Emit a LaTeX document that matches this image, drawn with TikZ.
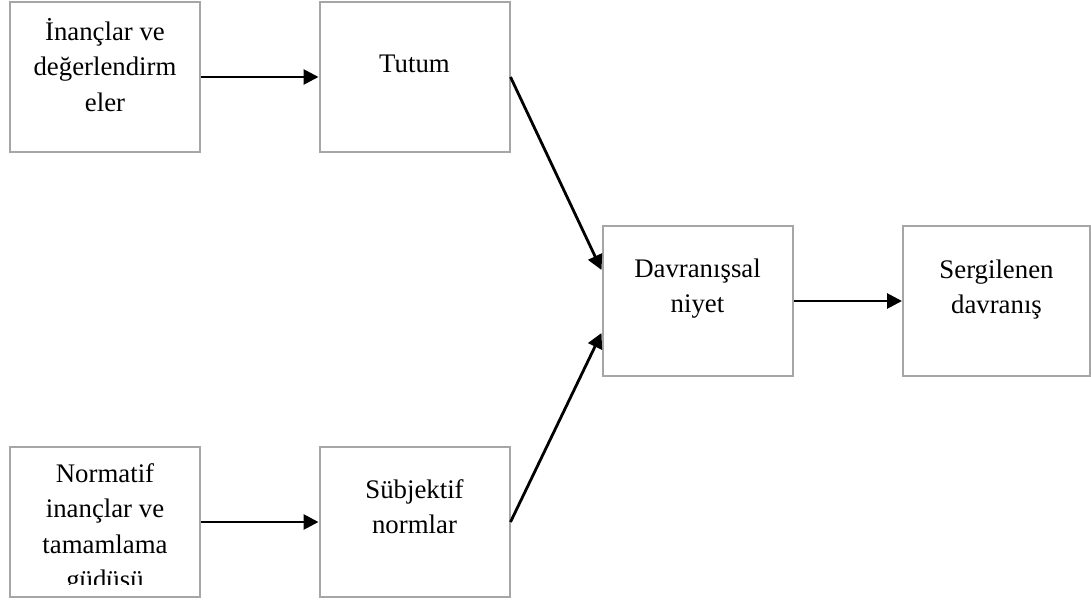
\documentclass[tikz,border=0pt]{standalone}
\usepackage{fontspec}
\setmainfont{Liberation Serif}
\usetikzlibrary{arrows.meta}
\tikzset{
    kutu/.style={draw=black!35, line width=1pt, minimum width=95pt, minimum height=75pt, inner sep=0pt},
    yazi/.style={align=center, anchor=base, inner sep=0pt, font=\fontsize{13.4}{17.75}\selectfont},
    oku/.style={-{Triangle[length=7.5pt,width=7.5pt]}, line width=1.4pt}
}
\begin{document}
\begin{tikzpicture}[x=0.5pt,y=-0.5pt]
    \useasboundingbox (0,0) rectangle (1091,599);
    % kutular
    \node[kutu] (inanc) at (105,77) {};
    \node[kutu] (tutum) at (414.5,77) {};
    \node[kutu] (niyet) at (697.5,301) {};
    \node[kutu,minimum width=93.5pt] (davranis) at (996.5,301) {};
    \node[kutu] (normatif) at (105,522) {};
    \node[kutu] (norm) at (414.5,522) {};

    % yazilar (base = son satir)
    \node[yazi] (inancY) at (105,111.5) {İnançlar ve\\değerlendirm\\eler};
    \node[yazi] (tutumY) at (414.5,73) {Tutum};
    \node[yazi] (niyetY) at (697.5,312.5) {Davranışsal\\niyet};
    \node[yazi] (davranisY) at (996.5,313.5) {Sergilenen\\davranış};
    \begin{scope}
        \clip (10,447) rectangle (200,584);
        \node[yazi] (normatifY) at (105,588.5) {Normatif\\inançlar ve\\tamamlama\\güdüsü};
    \end{scope}
    \node[yazi] (normY) at (414.5,533.5) {Sübjektif\\normlar};

    % oklar
    \draw[oku] (inanc) -- (tutum);
    \draw[oku] (normatif) -- (norm);
    \draw[oku] (tutum.east) -- ([yshift=15.5pt]niyet.west);
    \draw[oku] (norm.east) -- ([yshift=-16pt]niyet.west);
    \draw[oku] (niyet) -- (davranis);
\end{tikzpicture}
\end{document}
